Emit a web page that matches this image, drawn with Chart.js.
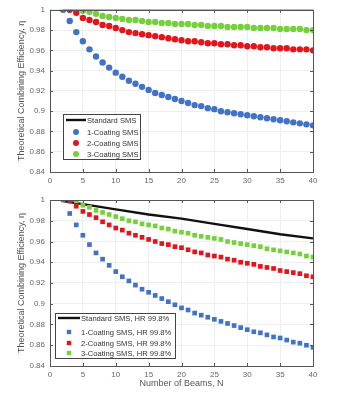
<!DOCTYPE html>
<html>
<head>
<meta charset="utf-8">
<script src="https://cdn.jsdelivr.net/npm/chart.js@4.4.1/dist/chart.umd.min.js"></script>
<style>
  html, body { margin:0; padding:0; background:#fff; }
  #wrap { position:relative; width:354px; height:393px; }
  canvas { position:absolute; left:0; }
  #top { top:0; }
  #bot { top:190px; }
</style>
</head>
<body>
<div id="wrap">
  <canvas id="top" width="354" height="190"></canvas>
  <canvas id="bot" width="354" height="203"></canvas>
</div>
<script>
// Number of beams N = 2..40
const beams = [2,3,4,5,6,7,8,9,10,11,12,13,14,15,16,17,18,19,20,21,22,23,24,25,26,27,28,29,30,31,32,33,34,35,36,37,38,39,40];

// upper plot (ideal HR)
const stdTop = beams.map(() => 1);
const coat1Top = [1.000,0.989,0.978,0.969,0.961,0.954,0.948,0.943,0.938,0.934,0.930,0.927,0.924,0.921,0.918,0.916,0.914,0.912,0.910,0.908,0.906,0.905,0.903,0.902,0.900,0.899,0.898,0.897,0.896,0.895,0.894,0.893,0.892,0.891,0.890,0.889,0.888,0.887,0.886];
const coat2Top = [null,1.000,0.997,0.992,0.990,0.988,0.985,0.984,0.982,0.980,0.978,0.977,0.976,0.975,0.974,0.973,0.972,0.971,0.970,0.969,0.969,0.968,0.967,0.967,0.966,0.966,0.965,0.965,0.964,0.964,0.963,0.963,0.962,0.962,0.962,0.961,0.961,0.961,0.960];
const coat3Top = [null,null,1.000,0.999,0.998,0.996,0.994,0.993,0.992,0.991,0.990,0.990,0.989,0.988,0.988,0.987,0.987,0.986,0.986,0.986,0.985,0.985,0.984,0.984,0.984,0.983,0.983,0.983,0.983,0.982,0.982,0.982,0.982,0.981,0.981,0.981,0.981,0.980,0.980];

// lower plot (HR 99.8%)
const stdBotN = [2,5,10,15,20,25,30,35,40];
const stdBot = [0.999,0.996,0.991,0.986,0.982,0.977,0.972,0.967,0.963];
const coat1Bot = [1.000,0.987,0.976,0.966,0.957,0.949,0.943,0.937,0.931,0.926,0.922,0.918,0.914,0.911,0.908,0.905,0.902,0.899,0.896,0.894,0.891,0.889,0.887,0.885,0.883,0.881,0.879,0.877,0.875,0.873,0.872,0.870,0.868,0.867,0.865,0.863,0.862,0.860,0.858];
const coat2Bot = [null,0.999,0.994,0.989,0.986,0.983,0.979,0.976,0.973,0.971,0.968,0.966,0.964,0.962,0.960,0.958,0.957,0.955,0.954,0.952,0.950,0.949,0.947,0.946,0.945,0.943,0.942,0.940,0.939,0.938,0.936,0.935,0.934,0.932,0.931,0.930,0.929,0.927,0.926];
const coat3Bot = [null,null,0.999,0.995,0.993,0.990,0.988,0.986,0.984,0.982,0.980,0.979,0.977,0.976,0.975,0.973,0.972,0.970,0.969,0.968,0.966,0.965,0.964,0.963,0.962,0.960,0.959,0.958,0.957,0.956,0.955,0.953,0.952,0.951,0.950,0.949,0.948,0.946,0.945];

const labelsTop = ['Standard SMS','1-Coating SMS','2-Coating SMS','3-Coating SMS'];
const labelsBot = ['Standard SMS, HR 99.8%','1-Coating SMS, HR 99.8%','2-Coating SMS, HR 99.8%','3-Coating SMS, HR 99.8%'];

const xTicks = [0,5,10,15,20,25,30,35,40];
const yTicks = [0.84,0.86,0.88,0.9,0.92,0.94,0.96,0.98,1];

const BLUE = '#4172c6', RED = '#e5141b', GREEN = '#76d03e', BLACK = '#111';
const FONT = 'Liberation Sans, Arial, sans-serif';

function pts(xs, ys){
  const out = [];
  xs.forEach((x,i) => { if (ys[i] != null) out.push({x, y: ys[i]}); });
  return out;
}

// legend box inside the plot + full frame (matlab look)
const boxPlugin = {
  id: 'boxLegend',
  afterDraw(chart, args, opts){
    const ctx = chart.ctx, a = chart.chartArea;
    ctx.save();
    // frame
    ctx.strokeStyle = '#555';
    ctx.lineWidth = 1;
    ctx.strokeRect(Math.round(a.left)+0.5, Math.round(a.top)+0.5, Math.round(a.right-a.left), Math.round(a.bottom-a.top));
    // inward tick marks
    const xs = chart.scales.x, ys = chart.scales.y;
    ctx.beginPath();
    xTicks.forEach(v => {
      const px = Math.round(xs.getPixelForValue(v))+0.5;
      ctx.moveTo(px, a.bottom); ctx.lineTo(px, a.bottom-3);
      ctx.moveTo(px, a.top); ctx.lineTo(px, a.top+3);
    });
    yTicks.forEach(v => {
      const py = Math.round(ys.getPixelForValue(v))+0.5;
      ctx.moveTo(a.left, py); ctx.lineTo(a.left+3, py);
      ctx.moveTo(a.right, py); ctx.lineTo(a.right-3, py);
    });
    ctx.stroke();

    // legend
    const x0 = a.left + opts.dx, w = opts.w, h = opts.h;
    const y0 = a.bottom - opts.dy - h;
    ctx.fillStyle = '#fff';
    ctx.fillRect(x0, y0, w, h);
    ctx.strokeStyle = '#444';
    ctx.strokeRect(x0+0.5, y0+0.5, w, h);
    ctx.font = '7.6px ' + FONT;
    ctx.textBaseline = 'middle';
    chart.data.datasets.forEach((ds, i) => {
      const ry = y0 + opts.rows[i];
      const mx = x0 + opts.sample/2 + 3;
      if (ds.showLine){
        ctx.strokeStyle = ds.borderColor;
        ctx.lineWidth = 2.4;
        ctx.beginPath();
        ctx.moveTo(x0+3, ry); ctx.lineTo(x0+3+opts.sample, ry);
        ctx.stroke();
      } else {
        ctx.fillStyle = ds.pointBackgroundColor;
        if (ds.pointStyle === 'rect'){
          ctx.fillRect(mx-2.2, ry-2.2, 4.4, 4.4);
        } else {
          ctx.beginPath(); ctx.arc(mx, ry, 3, 0, Math.PI*2); ctx.fill();
        }
      }
      ctx.fillStyle = '#333';
      ctx.fillText(ds.label, x0 + opts.sample + 4, ry + 0.5);
    });
    ctx.restore();
  }
};

function makeChart(id, sets, lg, opt){
  const datasets = sets.map(s => ({
    label: s.label,
    data: s.data,
    showLine: !!s.line,
    borderColor: s.color,
    borderWidth: s.line ? 2.4 : 0,
    pointRadius: s.line ? 0 : opt.radius,
    pointStyle: opt.style,
    pointBackgroundColor: s.color,
    pointBorderWidth: 0,
    order: s.line ? 1 : 0
  }));
  return new Chart(document.getElementById(id), {
    type: 'scatter',
    data: { datasets },
    plugins: [boxPlugin],
    options: {
      responsive: false,
      animation: false,
      events: [],
      layout: { padding: { top: opt.padTop, right: 41, left: 0, bottom: 0 } },
      plugins: {
        legend: { display: false },
        tooltip: { enabled: false },
        boxLegend: lg
      },
      scales: {
        x: {
          type: 'linear', min: 0, max: 40,
          afterBuildTicks: sc => { sc.ticks = xTicks.map(v => ({ value: v })); },
          afterFit: sc => { sc.height = opt.xH; },
          grid: { color: '#eeeeee', drawTicks: false },
          border: { display: false },
          ticks: { padding: 4, color: '#666', font: { family: FONT, size: 8 }, maxRotation: 0 },
          title: opt.xTitle ? { display: true, text: 'Number of Beams, N', color: '#555', font: { family: FONT, size: 9 }, padding: { top: 0, bottom: 4 } } : { display: false }
        },
        y: {
          min: 0.84, max: 1,
          afterBuildTicks: sc => { sc.ticks = yTicks.map(v => ({ value: v })); },
          afterFit: sc => { sc.width = 50; },
          grid: { color: '#eeeeee', drawTicks: false },
          border: { display: false },
          ticks: { padding: 5, color: '#666', font: { family: FONT, size: 8 }, callback: v => String(Number(v.toFixed(2))) },
          title: { display: true, text: 'Theoretical Combining Efficiency, η', color: '#555', font: { family: FONT, size: 9 }, padding: { top: 16.5, bottom: 0 } }
        }
      }
    }
  });
}

makeChart('top', [
  { label: labelsTop[0], data: pts(beams, stdTop), color: BLACK, line: true },
  { label: labelsTop[1], data: pts(beams, coat1Top), color: BLUE },
  { label: labelsTop[2], data: pts(beams, coat2Top), color: RED },
  { label: labelsTop[3], data: pts(beams, coat3Top), color: GREEN }
], { dx: 13, dy: 13, w: 77, h: 45, sample: 20, rows: [6, 18, 29, 40] },
   { radius: 3.2, style: 'circle', padTop: 7, xH: 18, xTitle: false });

makeChart('bot', [
  { label: labelsBot[0], data: pts(stdBotN, stdBot), color: BLACK, line: true },
  { label: labelsBot[1], data: pts(beams, coat1Bot), color: BLUE },
  { label: labelsBot[2], data: pts(beams, coat2Bot), color: RED },
  { label: labelsBot[3], data: pts(beams, coat3Bot), color: GREEN }
], { dx: 5, dy: 8, w: 120, h: 45, sample: 22, rows: [5, 19, 30, 40] },
   { radius: 3.3, style: 'rect', padTop: 10, xH: 27, xTitle: true });
</script>
</body>
</html>
